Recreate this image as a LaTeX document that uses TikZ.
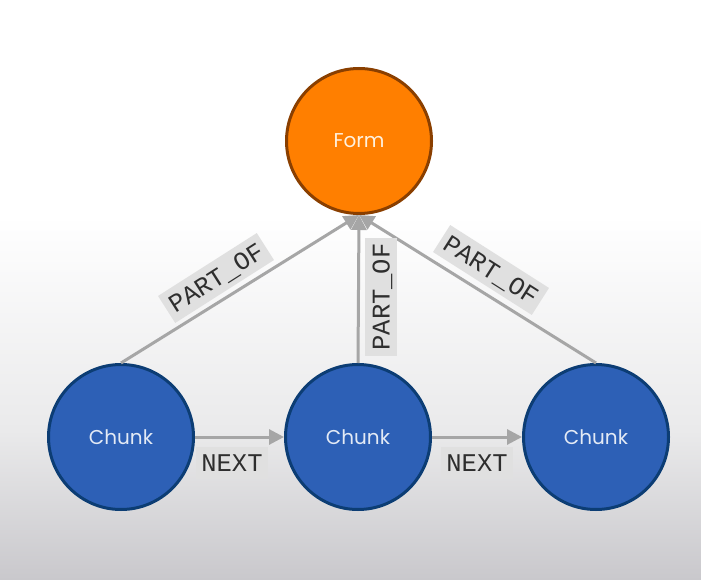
\documentclass[tikz,border=0pt]{standalone}
\usepackage{fontspec}
\setmainfont{Poppins}
\newfontfamily\lblfont{Liberation Mono}
\usetikzlibrary{arrows.meta}
\definecolor{formfill}{HTML}{FF7F00}
\definecolor{formborder}{HTML}{8A3F00}
\definecolor{formtext}{HTML}{FFF1DE}
\definecolor{chunkfill}{HTML}{2D60B6}
\definecolor{chunkborder}{HTML}{0C3D74}
\definecolor{chunktext}{HTML}{E3EAF5}
\definecolor{edgegray}{HTML}{A6A6A6}
\definecolor{lblgray}{HTML}{E0E0E0}
\definecolor{lbltext}{HTML}{2E2E2E}
\definecolor{bgmid}{HTML}{EAEAEB}
\definecolor{bgbot}{HTML}{C9C8CC}
\begin{document}
\begin{tikzpicture}[x=1pt,y=-1pt,
  nodebase/.style={circle,minimum size=145pt,inner sep=0pt,line width=3pt,
    font=\fontsize{20}{24}\selectfont},
  formnode/.style={nodebase,fill=formfill,draw=formborder,text=formtext},
  chunknode/.style={nodebase,fill=chunkfill,draw=chunkborder,text=chunktext},
  edge/.style={draw=edgegray,line width=3pt,-{Triangle[length=15pt,width=15pt]}},
  lbl/.style={fill=lblgray,text=lbltext,font=\lblfont\fontsize{25.5}{28}\selectfont,
    inner xsep=5pt,inner ysep=7.5pt,text height=17pt,text depth=0pt}]
\useasboundingbox (0,0) rectangle (701,580);
\fill[white] (0,0) rectangle (701,215);
\shade[top color=white,bottom color=bgmid] (0,215) rectangle (701,430);
\shade[top color=bgmid,bottom color=bgbot] (0,430) rectangle (701,580);

\node[formnode] (form) at (359,141) {Form};
\node[chunknode] (c1) at (121,437) {Chunk};
\node[chunknode] (c2) at (358,437) {Chunk};
\node[chunknode] (c3) at (596,437) {Chunk};

\draw[edge] (c1.north) -- (form.south);
\draw[edge] (c2.north) -- (form.south);
\draw[edge] (c3.north) -- (form.south);
\draw[edge] (c1.east) -- (c2.west);
\draw[edge] (c2.east) -- (c3.west);

\node[lbl,rotate=32.5] (l1) at (216,278) {PART\_OF};
\node[lbl,rotate=90] (l2) at (381,297) {PART\_OF};
\node[lbl,rotate=-32.5] (l3) at (491,270) {PART\_OF};
\node[lbl] (l4) at (232,463) {NEXT};
\node[lbl] (l5) at (477,463) {NEXT};
\end{tikzpicture}
\end{document}
